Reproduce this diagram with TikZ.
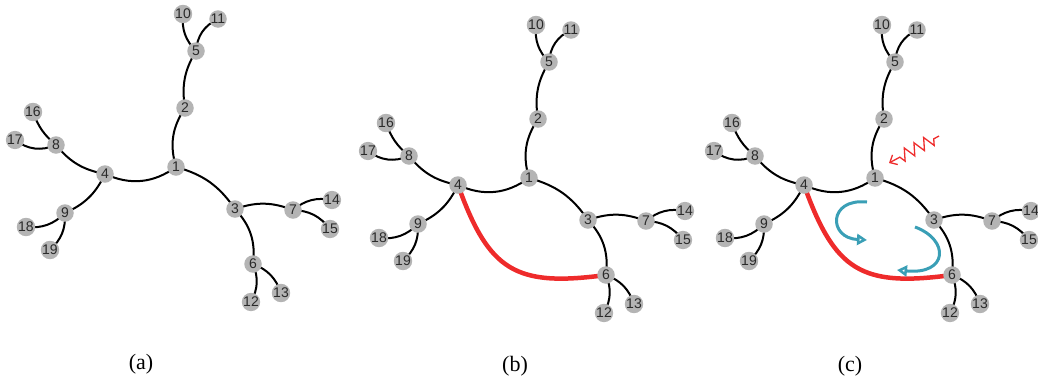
\documentclass[tikz,border=0pt]{standalone}
\usepackage{fontspec}
\setmainfont{Liberation Serif}
\newfontfamily\numfont{Liberation Sans}
\usetikzlibrary{arrows.meta,decorations.pathmorphing,backgrounds}
\definecolor{nodegray}{HTML}{B4B4B4}
\definecolor{numgray}{HTML}{2A2A2A}
\definecolor{edgered}{HTML}{EE2B2B}
\definecolor{arrowteal}{HTML}{3A9FB6}
\tikzset{
  vtx/.style={circle, fill=nodegray, minimum size=17.5pt, inner sep=0pt,
    font=\numfont\fontsize{14}{14}\selectfont, text=numgray},
  treeedge/.style={line width=2pt, black},
  rededge/.style={line width=4.5pt, edgered},
  tealarrow/.style={line width=3pt, arrowteal,
    -{Triangle[open, length=10pt, width=11pt, fill=white]}},
  zigarrow/.style={line width=1.3pt, edgered,
    decoration={zigzag, segment length=11pt, amplitude=6pt, pre length=6pt, post length=12pt},
    decorate, -{Straight Barb[length=6pt, width=11pt]}},
  panellabel/.style={font=\fontsize{22}{24}\selectfont}
}
\newcommand\drawtree[3]{%
  \begin{scope}[shift={(#2,#3)}]
    \node[vtx] (#1-1) at (176,167) {1};
    \node[vtx] (#1-2) at (185,108) {2};
    \node[vtx] (#1-5) at (196,51) {5};
    \node[vtx] (#1-10) at (183,14) {10};
    \node[vtx] (#1-11) at (218,19) {11};
    \node[vtx] (#1-4) at (105,174) {4};
    \node[vtx] (#1-8) at (56,145) {8};
    \node[vtx] (#1-16) at (33,112) {16};
    \node[vtx] (#1-17) at (15,140) {17};
    \node[vtx] (#1-9) at (65,213) {9};
    \node[vtx] (#1-18) at (26,227) {18};
    \node[vtx] (#1-19) at (50,250) {19};
    \node[vtx] (#1-3) at (235,209) {3};
    \node[vtx] (#1-7) at (293,210) {7};
    \node[vtx] (#1-14) at (332,200) {14};
    \node[vtx] (#1-15) at (330,229) {15};
    \node[vtx] (#1-6) at (253,264) {6};
    \node[vtx] (#1-12) at (251,302) {12};
    \node[vtx] (#1-13) at (281,293) {13};
  \end{scope}
  \begin{scope}[on background layer]
    \draw[treeedge] (#1-1.center) to[bend left=25] (#1-2.center);
    \draw[treeedge] (#1-2.center) to[bend left=20] (#1-5.center);
    \draw[treeedge] (#1-5.center) to[bend left=25] (#1-10.center);
    \draw[treeedge] (#1-5.center) to[bend left=30] (#1-11.center);
    \draw[treeedge] (#1-1.center) to[bend left=30] (#1-4.center);
    \draw[treeedge] (#1-4.center) to[bend left=20] (#1-8.center);
    \draw[treeedge] (#1-8.center) to[bend left=15] (#1-16.center);
    \draw[treeedge] (#1-8.center) to[bend left=30] (#1-17.center);
    \draw[treeedge] (#1-4.center) to[bend left=20] (#1-9.center);
    \draw[treeedge] (#1-9.center) to[bend left=25] (#1-18.center);
    \draw[treeedge] (#1-9.center) to[bend left=25] (#1-19.center);
    \draw[treeedge] (#1-1.center) to[bend left=20] (#1-3.center);
    \draw[treeedge] (#1-3.center) to[bend left=20] (#1-7.center);
    \draw[treeedge] (#1-7.center) to[bend left=25] (#1-14.center);
    \draw[treeedge] (#1-7.center) to[bend left=25] (#1-15.center);
    \draw[treeedge] (#1-3.center) to[bend left=25] (#1-6.center);
    \draw[treeedge] (#1-6.center) to[bend left=25] (#1-13.center);
    \draw[treeedge] (#1-6.center) to[bend left=25] (#1-12.center);
  \end{scope}}
\begin{document}
\begin{tikzpicture}[x=1pt,y=-1pt]
  \useasboundingbox (0,0) rectangle (1038,378);
  \drawtree{a}{0}{0}
  \drawtree{b}{353}{11}
  \drawtree{c}{699}{11}
  \begin{scope}[on background layer]
    \draw[rededge] (b-4.center) to[out=-39, in=219, relative, looseness=1.35] (b-6.center);
    \draw[rededge] (c-4.center) to[out=-39, in=219, relative, looseness=1.35] (c-6.center);
  \end{scope}
  % annotations in panel (c)
  \coordinate (zs) at (939,136);
  \coordinate (ze) at (889,163);
  \draw[zigarrow] (zs) -- (ze);
  \coordinate (t1s) at (867,202);
  \coordinate (t1e) at (867,240);
  \coordinate (t2s) at (915,227);
  \coordinate (t2e) at (897,270);
  \draw[tealarrow] (t1s) .. controls (828,198) and (828,238) .. (t1e);
  \draw[tealarrow] (t2s) .. controls (950,240) and (948,275) .. (t2e);
  % panel labels
  \node[panellabel] (la) at (141,364) {(a)};
  \node[panellabel] (lb) at (515,366) {(b)};
  \node[panellabel] (lc) at (850,366) {(c)};
\end{tikzpicture}
\end{document}
